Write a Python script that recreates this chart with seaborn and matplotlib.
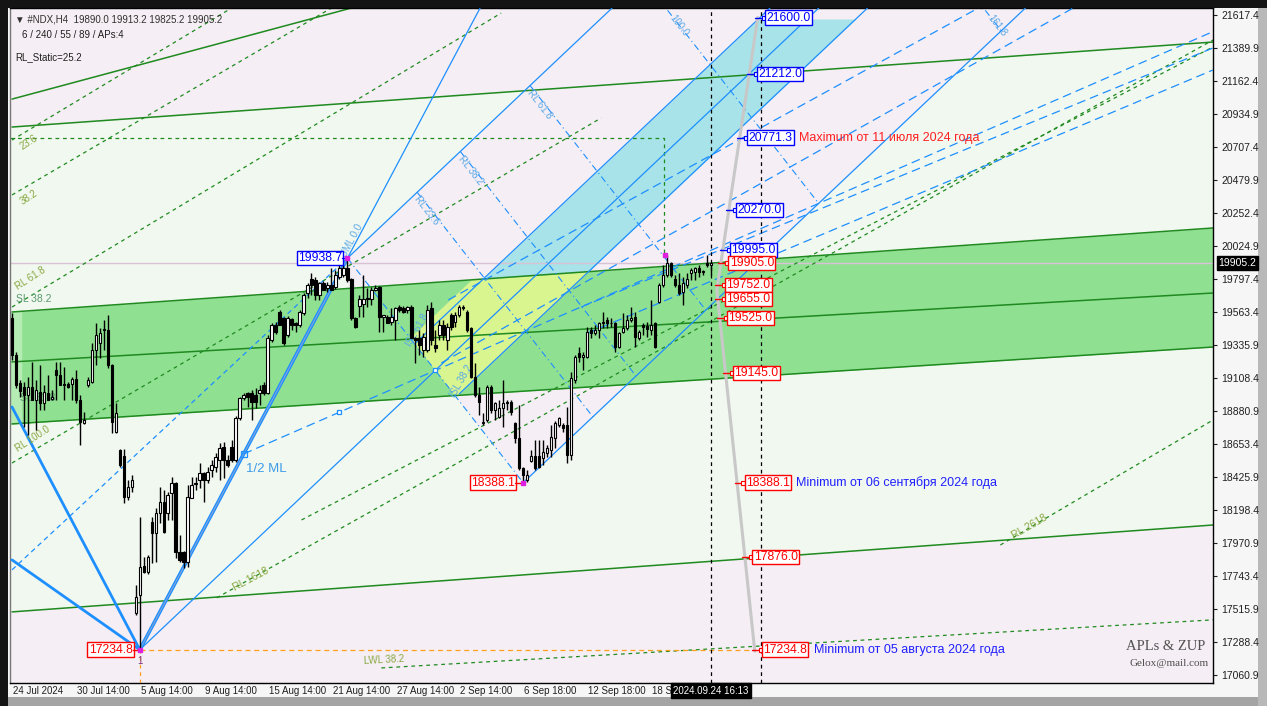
import matplotlib
matplotlib.use("Agg")
import numpy as np
import pandas as pd
import matplotlib.pyplot as plt
import seaborn as sns
from matplotlib.patches import Rectangle

# ---------------- data (#NDX, H4) ----------------
opens = [19526, 19270, 19077, 19049, 18994, 19049, 18960, 19015, 18939, 19008,
         18966, 19167, 19132, 19070, 19070, 19070, 19105, 18960, 18801, 19063,
         19084, 19305, 19353, 19443, 19443, 19201, 18739, 18614, 18573, 18290,
         18359, 17489, 17613, 17814, 17772, 18117, 18041, 18179, 18255, 18179,
         18318, 18387, 17910, 17910, 17841, 18283, 18387, 18407, 18456, 18407,
         18476, 18497, 18545, 18635, 18545, 18635, 18545, 18835, 18973, 19008,
         19008, 18994, 19008, 19063, 19008, 19374, 19477, 19567, 19526, 19408,
         19519, 19491, 19477, 19560, 19698, 19795, 19788, 19684, 19767, 19733,
         19754, 19740, 19809, 19823, 19871, 19795, 19526, 19609, 19625, 19657,
         19657, 19719, 19740, 19530, 19533, 19498, 19512, 19602, 19595, 19581,
         19602, 19388, 19388, 19305, 19305, 19595, 19339, 19408, 19477, 19374,
         19546, 19498, 19546, 19602, 19567, 19457, 19118, 18994, 18801, 18822,
         19049, 18891, 18842, 18904, 18946, 18946, 18801, 18697, 18490, 18407,
         18539, 18573, 18573, 18559, 18594, 18614, 18697, 18787, 18787, 18787,
         18580, 19098, 19284, 19257, 19257, 19443, 19422, 19443, 19491, 19512,
         19491, 19491, 19326, 19429, 19457, 19512, 19533, 19388, 19477, 19470,
         19443, 19491, 19636, 19754, 19823, 19905, 19795, 19754, 19705, 19754,
         19836, 19843, 19871, 19843, 19905, 19890.0]
highs = [19560, 19291, 19098, 19084, 19118, 19222, 19098, 19201, 19063, 19132,
         19029, 19222, 19222, 19187, 19084, 19118, 19167, 18994, 18877, 19118,
         19353, 19491, 19457, 19512, 19546, 19205, 18939, 18621, 18621, 18407,
         18442, 17682, 18152, 17876, 17889, 18152, 18214, 18359, 18338, 18324,
         18428, 18393, 18028, 17915, 18373, 18428, 18428, 18525, 18463, 18497,
         18545, 18594, 18663, 18670, 18580, 18684, 18849, 18980, 19008, 19015,
         19029, 19042, 19063, 19084, 19408, 19491, 19498, 19581, 19533, 19540,
         19526, 19498, 19581, 19698, 19767, 19836, 19809, 19774, 19781, 19774,
         19871, 19857, 19892, 19892, 19938.7, 19802, 19533, 19684, 19823, 19733,
         19740, 19754, 19745, 19546, 19546, 19595, 19602, 19615, 19609, 19609,
         19615, 19395, 19443, 19422, 19615, 19636, 19443, 19512, 19512, 19491,
         19560, 19567, 19615, 19615, 19581, 19464, 19215, 19049, 18870, 19063,
         19063, 18946, 18960, 19098, 18960, 18960, 18808, 18925, 18497, 18476,
         18614, 18684, 18684, 18684, 18649, 18787, 18815, 18842, 18801, 18911,
         19153, 19270, 19326, 19291, 19464, 19464, 19477, 19498, 19567, 19533,
         19526, 19498, 19429, 19560, 19546, 19602, 19567, 19443, 19491, 19498,
         19650, 19498, 19767, 19892, 19961, 19912, 19823, 19836, 19809, 19836,
         19871, 19878, 19892, 19857, 19961, 19913.2]
lows = [19236, 19042, 18980, 18773, 18718, 18960, 18752, 18891, 18891, 18960,
        18960, 18960, 19063, 18960, 19042, 18960, 18939, 18649, 18794, 19049,
        19077, 19201, 19250, 19305, 19181, 18732, 18732, 18497, 18248, 18269,
        18324, 17475, 17234.8, 17765, 17759, 17835, 17841, 18110, 18041, 18131,
        18131, 17869, 17841, 17800, 17807, 18280, 18338, 18352, 18255, 18387,
        18428, 18463, 18407, 18421, 18497, 18532, 18532, 18822, 18960, 18911,
        18822, 18904, 18925, 18994, 19001, 19360, 19415, 19475, 19339, 19395,
        19443, 19429, 19464, 19546, 19664, 19684, 19650, 19650, 19719, 19705,
        19719, 19726, 19795, 19809, 19774, 19512, 19457, 19533, 19533, 19602,
        19615, 19715, 19429, 19429, 19488, 19477, 19374, 19567, 19560, 19560,
        19385, 19215, 19270, 19257, 19291, 19339, 19291, 19374, 19374, 19305,
        19443, 19464, 19533, 19581, 19429, 19111, 18980, 18856, 18787, 18808,
        18870, 18822, 18835, 18773, 18891, 18856, 18663, 18476, 18388.1, 18393,
        18532, 18476, 18490, 18511, 18566, 18566, 18628, 18773, 18739, 18525,
        18545, 19077, 19222, 19167, 19250, 19388, 19408, 19388, 19457, 19457,
        19464, 19291, 19319, 19422, 19443, 19498, 19326, 19374, 19408, 19395,
        19408, 19320, 19629, 19740, 19809, 19809, 19740, 19684, 19615, 19733,
        19788, 19788, 19809, 19823, 19878, 19825.2]
closes = [19270, 19063, 19022, 18994, 19049, 18960, 19029, 18939, 19015, 18960,
          18980, 19132, 19063, 19065, 19049, 19105, 18960, 18808, 18822, 19098,
          19305, 19408, 19422, 19440, 19201, 18808, 18870, 18511, 18290, 18359,
          18407, 17598, 17807, 17772, 17876, 18041, 18179, 18255, 18045, 18304,
          18387, 17910, 17855, 17841, 18290, 18373, 18380, 18456, 18407, 18463,
          18511, 18566, 18628, 18545, 18511, 18545, 18835, 18973, 18994, 18980,
          18946, 18946, 19029, 19008, 19388, 19477, 19429, 19480, 19353, 19526,
          19477, 19477, 19567, 19684, 19754, 19754, 19684, 19767, 19719, 19754,
          19719, 19823, 19871, 19871, 19788, 19526, 19464, 19657, 19660, 19655,
          19719, 19733, 19533, 19546, 19491, 19533, 19595, 19581, 19567, 19602,
          19390, 19374, 19339, 19395, 19581, 19374, 19319, 19477, 19408, 19464,
          19464, 19546, 19602, 19595, 19443, 19118, 18994, 18946, 18808, 19049,
          18891, 18939, 18904, 18939, 18939, 18877, 18697, 18490, 18442, 18442,
          18573, 18490, 18497, 18601, 18628, 18704, 18801, 18835, 18766, 18580,
          19111, 19257, 19257, 19270, 19429, 19422, 19443, 19491, 19498, 19491,
          19488, 19326, 19422, 19457, 19512, 19526, 19395, 19429, 19464, 19450,
          19477, 19326, 19754, 19823, 19905, 19823, 19754, 19698, 19767, 19795,
          19857, 19871, 19843, 19845, 19892, 19905.2]

time_labels = ["24 Jul 2024", "30 Jul 14:00", "5 Aug 14:00", "9 Aug 14:00", "15 Aug 14:00",
               "21 Aug 14:00", "27 Aug 14:00", "2 Sep 14:00", "6 Sep 18:00", "12 Sep 18:00",
               "18 Sep 18:00"]
price_ticks = [17060.9, 17288.4, 17515.9, 17743.4, 17970.9, 18198.4, 18425.9, 18653.4,
               18880.9, 19108.4, 19335.9, 19563.4, 19797.4, 20024.9, 20252.4, 20479.9,
               20707.4, 20934.9, 21162.4, 21389.9, 21617.4]

# pitchfork pivots (bar, price)
pivot_bars = [32, 84, 128]
pivot_prices = [17234.8, 19938.7, 18388.1]
fib_reaction = [0.236, 0.382, 0.618, 1.0, 1.618]
reaction_names = ["RL 23.6", "RL 38.2", "RL 61.8", "100.0", "161.8"]
warning_frac = 0.236
yellow_frac = 0.29

# channel lines: (bar0, price0, bar1, price1)
band_top = (0, 19567, 300.75, 20147)
band_mid = (0, 19222, 300.75, 19698)
band_bot = (0, 18794, 300.75, 19325)
chan_hi = (0, 20844, 300.75, 21431)
chan_lo = (0, 17496, 300.75, 18096)
steep_green = (0, 21037, 85, 21666)
green_dashed = [(51.25, 17593, 300.75, 21445), (0, 18524, 147.5, 20906),
                (0, 19601, 122.5, 21631), (0, 20375, 80, 21666),
                (0, 20754, 55, 21666), (92.5, 17109, 300.75, 17441),
                (247.5, 17958, 300.75, 18821), (72.5, 18131, 300.75, 21397)]
blue_dashed = [(142.5, 19601, 300.75, 21390), (144.25, 19422, 300.75, 21238),
               (107.5, 19215, 265.75, 21666), (109.25, 19650, 242, 21666)]
max_level = 20771.3
max_level_end = 163.25
fan_left = [(0, 18911), (0, 17855)]
dashed_to_p2 = (0, 17786)

# levels shown in boxes on the right
level_prices = [21600.0, 21212.0, 20771.3, 20270.0, 19995.0, 19905.0, 19752.0,
                19655.0, 19525.0, 19145.0, 18388.1, 17876.0, 17234.8]
level_is_red = [False, False, False, False, False, True, True, True, True, True,
                True, True, True]
# gray zigzag guide (bar, price)
guide_bars = [186.75, 176.5, 186.0]
guide_prices = [21600, 19719, 17225]

notes = {20771.3: ("Maximum от 11 июля 2024 года", "#ff2020"),
         18388.1: ("Minimum от 06 сентября 2024 года", "#2020ff"),
         17234.8: ("Minimum от 05 августа 2024 года", "#2020ff")}

last_bar = 175

# ---------------- styling ----------------
sns.set_theme(style="white")
plt.rcParams['font.family'] = ['Liberation Sans', 'DejaVu Sans']

W, H = 1267, 706
fig = plt.figure(figsize=(W / 100, H / 100), dpi=100, facecolor='#141414')
fig.patches.append(Rectangle((8 / W, 9 / H), 1250 / W, 689 / H, transform=fig.transFigure,
                             fc='#f6f6f6', ec='none', zorder=-2))
fig.patches.append(Rectangle((8 / W, 0), 1259 / W, 9 / H, transform=fig.transFigure,
                             fc='#a4a4a4', ec='none', zorder=-2))
fig.patches.append(Rectangle((1258 / W, 0), 9 / W, 698 / H, transform=fig.transFigure,
                             fc='#b8b8b8', ec='none', zorder=-2))

ax = fig.add_axes([10 / W, 23 / H, 1203 / W, 675 / H])
ax.set_facecolor('#f1f8ef')
XMIN, XMAX = -0.5, 300.75
YMIN, YMAX = 17005, 21666
ax.set_xlim(XMIN, XMAX)
ax.set_ylim(YMIN, YMAX)

xs = np.linspace(XMIN, XMAX, 4000)


def line_fn(seg):
    b0, p0, b1, p1 = seg
    return lambda x: p0 + (p1 - p0) * (np.asarray(x, float) - b0) / (b1 - b0)


gtop, gmid, gbot = line_fn(band_top), line_fn(band_mid), line_fn(band_bot)
chi, clo = line_fn(chan_hi), line_fn(chan_lo)

# pitchfork geometry
p1b, p2b, p3b = pivot_bars
p1p, p2p, p3p = pivot_prices
mb, mp = (p2b + p3b) / 2, (p2p + p3p) / 2
slope = (mp - p1p) / (mb - p1b)
ml = lambda x: p1p + slope * (x - p1b)
uml = lambda x: p2p + slope * (x - p2b)
lml = lambda x: p3p + slope * (x - p3b)
half_w = uml(0) - ml(0)
warn = warning_frac * half_w
s23 = (p3p - p2p) / (p3b - p2b)
l23 = lambda x: p2p + s23 * (x - p2b)

# background zones
pink = '#f5eef4'
ax.fill_between(xs, chi(xs), YMAX, color=pink, lw=0, zorder=0)
ax.fill_between(xs, YMIN, clo(xs), color=pink, lw=0, zorder=0)
m = xs >= p2b
lo1, hi1 = np.maximum(lml(xs[m]), gtop(xs[m])), np.minimum(uml(xs[m]), YMAX)
ax.fill_between(xs[m], lo1, hi1, where=hi1 > lo1, color=pink, lw=0, zorder=0.2, interpolate=True)
lo2, hi2 = np.maximum(lml(xs[m]), l23(xs[m])), gbot(xs[m])
ax.fill_between(xs[m], lo2, hi2, where=hi2 > lo2, color=pink, lw=0, zorder=0.2, interpolate=True)

# green band (slightly faded at its left end)
ax.fill_between(xs, gbot(xs), gtop(xs), color='#90e092', lw=0, zorder=0.5)
fade = xs < 2.5
ax.fill_between(xs[fade], gbot(xs[fade]), gtop(xs[fade]), color='#b4ecb4', lw=0, zorder=0.55)
# cyan warning zone above the band
clo_, chi_ = np.maximum(gtop(xs), ml(xs) - warn), np.minimum(ml(xs) + warn, 21590)
ax.fill_between(xs, clo_, chi_, where=chi_ > clo_, color='#a7e3e8', lw=0, zorder=0.6,
                interpolate=True)
# yellow part inside the band
ylo = np.maximum(np.maximum(gbot(xs), ml(xs) - warn), l23(xs))
yhi = np.minimum(gtop(xs), ml(xs) + yellow_frac * half_w)
ax.fill_between(xs, ylo, yhi, where=(yhi > ylo) & (xs > p2b), color='#d8f590', lw=0,
                zorder=0.6, interpolate=True)

GREEN = '#1f8a1f'
BLUE = '#1e8fff'


def seg_plot(seg, **kw):
    ax.plot([seg[0], seg[2]], [seg[1], seg[3]], **kw)


for seg in (band_top, band_mid, band_bot, chan_hi, chan_lo, steep_green):
    seg_plot(seg, color=GREEN, lw=1.1, zorder=2)
for seg in green_dashed:
    seg_plot(seg, color=GREEN, lw=0.9, ls=(0, (3, 3)), zorder=2)
ax.plot([XMIN, max_level_end, max_level_end], [max_level, max_level, highs[164]],
        color=GREEN, lw=0.9, ls=(0, (3, 3)), zorder=2)
for seg in blue_dashed:
    seg_plot(seg, color=BLUE, lw=0.9, ls=(0, (7, 4)), zorder=3)

# fan from pivot 1
for b, p in fan_left:
    ax.plot([b, p1b], [p, p1p], color=BLUE, lw=2.0, zorder=3)
ax.plot([p1b, p2b], [p1p, p2p], color=BLUE, lw=2.6, zorder=3)
ax.plot([p1b, p2b], [p1p, p2p], color='#8aa6d8', lw=0.7, zorder=3)
s12 = (p2p - p1p) / (p2b - p1b)
ax.plot([p2b, p2b + (YMAX - p2p) / s12], [p2p, YMAX], color=BLUE, lw=0.9, zorder=3)

# median lines
top_x = lambda f, b0: b0 + (YMAX - f(b0)) / slope
ax.plot([p1b, top_x(ml, p1b)], [p1p, YMAX], color=BLUE, lw=0.9, zorder=3)
ax.plot([p2b, top_x(uml, p2b)], [p2p, YMAX], color=BLUE, lw=0.9, zorder=3)
ax.plot([p3b, top_x(lml, p3b)], [p3p, YMAX], color=BLUE, lw=0.9, zorder=3)
wl = lambda x: ml(x) + warn
wr = lambda x: ml(x) - warn
ax.plot([100.75, top_x(wl, 100.75)], [wl(100.75), YMAX], color=BLUE, lw=0.9, zorder=3)
ax.plot([112, top_x(wr, 112)], [wr(112), YMAX], color=BLUE, lw=0.9, zorder=3)

# reaction lines parallel to 2-3
for f, name in zip(fib_reaction, reaction_names):
    cb, cp = mb + f * (mb - p1b), mp + f * (mp - p1p)
    rl = lambda x, cb=cb, cp=cp: cp + s23 * (x - cb)
    xa = (p2p - cp + s23 * cb - slope * p2b) / (s23 - slope)
    xb = (p3p - cp + s23 * cb - slope * p3b) / (s23 - slope)
    ax.plot([xa, xb], [rl(xa), rl(xb)], color=BLUE, lw=0.8, ls=(0, (6, 3, 1, 3)), zorder=3)
    tb = xa + 2.5 if rl(xa) < YMAX else cb + (YMAX - 120 - cp) / s23
    ax.text(tb, rl(tb) - 40 if rl(xa) < YMAX else YMAX - 120, name, color='#5aa8e8',
            fontsize=7, rotation=-52, ha='center', va='center', zorder=4)
ax.plot([p2b, p3b], [p2p, p3p], color=BLUE, lw=0.8, ls=(0, (6, 3, 1, 3)), zorder=3)

# 1/2 median line
hb, hp = (p1b + p2b) / 2, (p1p + p2p) / 2
hs = (mp - hp) / (mb - hb)
ax.plot([hb, XMAX], [hp, hp + hs * (XMAX - hb)], color=BLUE, lw=0.9, ls=(0, (7, 4)), zorder=3)
ax.plot([dashed_to_p2[0], p2b], [dashed_to_p2[1], p2p], color=BLUE, lw=0.9, ls=(0, (4, 3)),
        zorder=3)
ax.plot([hb], [hp], marker='s', ms=4, mfc='none', mec=BLUE, mew=0.9, zorder=4)
ax.plot([(hb + mb) / 2], [(hp + mp) / 2], marker='s', ms=3.5, mfc='white', mec=BLUE, mew=0.9,
        zorder=4)
ax.plot([mb], [mp], marker='s', ms=3.5, mfc='white', mec=BLUE, mew=0.9, zorder=4)
ax.text(hb + 0.5, hp - 60, "1/2 ML", color='#3d9be8', fontsize=9.5, va='top', zorder=4)
ax.text(p2b + 1.2, p2p + 120, "UML 0.0", color='#5aa8e8', fontsize=7, rotation=62,
        ha='center', va='center', zorder=4)
ax.text(101.5, 19440, "ISL 61.8", color='#5aa8e8', fontsize=7, rotation=60, ha='center',
        va='center', zorder=4)
ax.text(112.5, 19090, "ISL 38.2", color='#5aa8e8', fontsize=7, rotation=60, ha='center',
        va='center', zorder=4)

# current price line
ax.axhline(closes[-1], color='#d9c2d6', lw=1.0, zorder=1)
# orange pivot projection
ax.plot([p1b, guide_bars[2]], [p1p, p1p], color='#ffa020', lw=0.9, ls=(0, (4, 3)), zorder=3)
ax.plot([p1b, p1b], [YMIN, p1p], color='#ffa020', lw=0.9, ls=(0, (3, 3)), zorder=3)

# ---------------- candles ----------------
df = pd.DataFrame({'o': opens, 'h': highs, 'l': lows, 'c': closes})
df['bar'] = np.arange(len(df))
up = df.c >= df.o
ax.vlines(df.bar, df.l, df.h, color='black', lw=1.0, zorder=5)
bh = (df.c - df.o).abs().clip(lower=6)
ax.bar(df.bar[up], bh[up], bottom=df.o[up], width=0.62, color='white', edgecolor='black',
       lw=0.8, zorder=6)
ax.bar(df.bar[~up], bh[~up], bottom=df.c[~up], width=0.62, color='black', edgecolor='black',
       lw=0.8, zorder=6)

# vertical time markers
ax.axvline(last_bar, color='black', lw=0.9, ls=(0, (3, 3)), zorder=7)
ax.axvline(187.5, color='black', lw=0.9, ls=(0, (3, 3)), zorder=7)

# gray guide
ax.plot(guide_bars, guide_prices, color='#c8c8c8', lw=2.2, zorder=7)


def guide_x(p):
    return float(np.interp(p, guide_prices[::-1], guide_bars[::-1]))


for p, red in zip(level_prices, level_is_red):
    col = '#ff0000' if red else '#0000ff'
    x0 = guide_x(p) - 0.6
    x1 = x0 + 2.2
    ax.plot([x0, x1], [p, p], color=col, lw=1.0, zorder=8)
    ax.plot([x1], [p], marker='s', ms=3, mfc='white', mec=col, mew=0.8, zorder=9)
    ax.text(x1 + 0.6, p, f"{p:.1f}", color=col, fontsize=8.8, va='center', ha='left',
            bbox=dict(boxstyle='square,pad=0.1', fc='white', ec=col, lw=1.0), zorder=10)
    if p in notes:
        txt, nc = notes[p]
        ax.text(x1 + 13.2, p, txt, color=nc, fontsize=9, va='center', ha='left', zorder=10)

# pivot labels
ax.text(p2b - 1.3, p2p, f"{p2p:.1f}", color='#0000ff', fontsize=8.8, va='center', ha='right',
        bbox=dict(boxstyle='square,pad=0.1', fc='white', ec='#0000ff', lw=1.0), zorder=10)
ax.plot([p2b - 1.3, p2b], [p2p, p2p], color='#0000ff', lw=1, zorder=10)
ax.text(p1b - 1.8, p1p, f"{p1p:.1f}", color='#ff0000', fontsize=8.8, va='center', ha='right',
        bbox=dict(boxstyle='square,pad=0.1', fc='white', ec='#ff0000', lw=1.0), zorder=10)
ax.text(p3b - 2.0, p3p, f"{p3p:.1f}", color='#ff0000', fontsize=8.8, va='center', ha='right',
        bbox=dict(boxstyle='square,pad=0.1', fc='white', ec='#ff0000', lw=1.0), zorder=10)
ax.plot([p1b - 1.8, p1b], [p1p, p1p], color='#ff0000', lw=1, zorder=10)
ax.plot([p3b - 2.0, p3b], [p3p, p3p], color='#ff0000', lw=1, zorder=10)
for b, p in zip(pivot_bars, pivot_prices):
    ax.plot([b], [p], marker='s', ms=2.5, color='#e020e0', zorder=11)
ax.plot([163.5], [highs[164]], marker='s', ms=2.5, color='#e020e0', zorder=11)
ax.text(p1b, p1p - 45, "1", color='#803080', fontsize=7, ha='center', va='top', zorder=11)

# small rotated level names
lab = '#8aa844'
ax.text(55, 17640, "RL 1618", color=lab, fontsize=7.5, rotation=28, zorder=4)
ax.text(250, 18000, "RL 2618", color=lab, fontsize=7.5, rotation=30, zorder=4)
ax.text(88, 17135, "LWL 38.2", color=lab, fontsize=7, rotation=3, zorder=4)
ax.text(1, 19660, "SL 38.2", color='#5a9a70', fontsize=7.5, va='center', zorder=4)
ax.text(2, 18973, "SL 61.8", color='#5a9a70', fontsize=7.5, va='center', zorder=4)
ax.text(0.5, 18600, "RL 100.0", color=lab, fontsize=7, rotation=33, zorder=4)
ax.text(0.5, 19720, "RL 61.8", color=lab, fontsize=7, rotation=33, zorder=4)
ax.text(1.5, 20310, "38.2", color=lab, fontsize=7, rotation=33, zorder=4)
ax.text(1.5, 20690, "23.6", color=lab, fontsize=7, rotation=33, zorder=4)

# ---------------- axes & texts ----------------
for s in ax.spines.values():
    s.set_color('black')
    s.set_linewidth(1.0)
ax.spines['left'].set_color('#777777')
ax.yaxis.tick_right()
ax.set_yticks(price_ticks)
ax.set_yticklabels([f"{t:.1f}" for t in price_ticks], fontsize=7.5, color='#202020')
ax.tick_params(axis='y', direction='out', length=3, pad=3, width=0.8, colors='#202020')
tick_bars = np.arange(0, len(time_labels) * 16, 16)
ax.set_xticks(tick_bars)
ax.set_xticklabels([])
ax.tick_params(axis='x', direction='out', length=3, width=0.8)
xt = ax.get_xaxis_transform()
for b, t in zip(tick_bars, time_labels):
    ax.text(b + 0.3, -0.005, t, transform=xt, fontsize=7, va='top', ha='left',
            color='#202020', clip_on=False, zorder=1)
ax.text(last_bar, -0.004, "2024.09.24 16:13", transform=xt, fontsize=7, va='top',
        ha='center', color='white', clip_on=False, zorder=5,
        bbox=dict(boxstyle='square,pad=0.25', fc='black', ec='black'))
yt = ax.get_yaxis_transform()
ax.text(1.0045, closes[-1], f"{closes[-1]:.1f}", transform=yt, fontsize=7.5, va='center',
        ha='left', color='white', clip_on=False, zorder=5,
        bbox=dict(boxstyle='square,pad=0.15', fc='black', ec='black'))

ax.text(0.004, 0.99, "▼ #NDX,H4  19890.0 19913.2 19825.2 19905.2", transform=ax.transAxes,
        fontsize=7, va='top', color='#303030')
ax.text(0.010, 0.968, "6 / 240 / 55 / 89 / APs:4", transform=ax.transAxes, fontsize=7,
        va='top', color='#202020')
ax.text(0.004, 0.935, "RL_Static=25.2", transform=ax.transAxes, fontsize=7, va='top',
        color='#202020')
ax.text(0.9935, 0.045, "APLs & ZUP", transform=ax.transAxes, fontsize=10.5, ha='right',
        va='bottom', color='#505050', family=['Liberation Serif'])
ax.text(0.9965, 0.022, "Gelox@mail.com", transform=ax.transAxes, fontsize=8, ha='right',
        va='bottom', color='#505050', family=['Liberation Serif'])

fig.savefig("out.png", dpi=100, facecolor=fig.get_facecolor())
